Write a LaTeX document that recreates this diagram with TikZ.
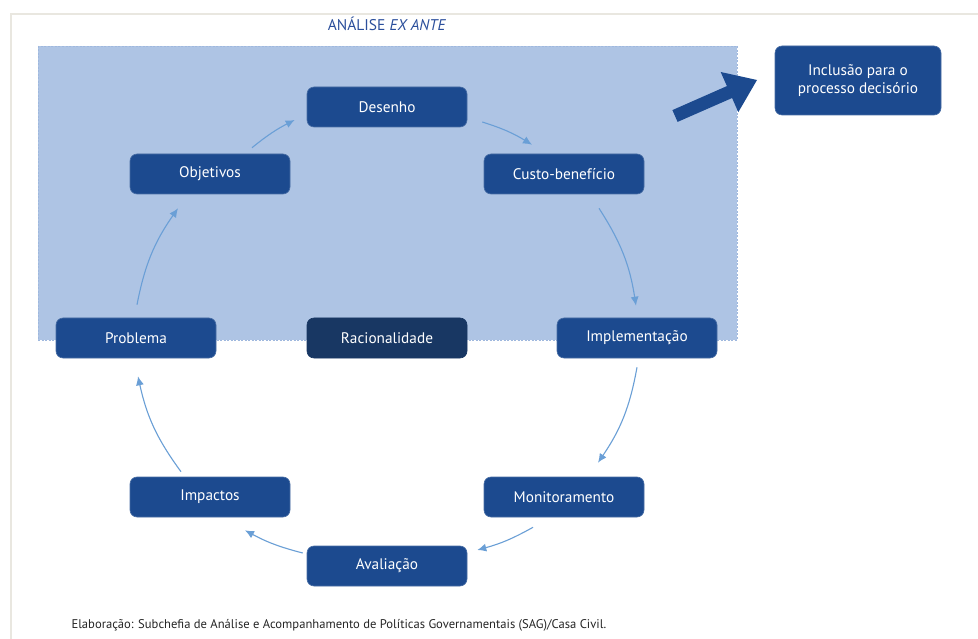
\documentclass[tikz,border=0pt]{standalone}
\usepackage{fontspec}
\setmainfont{PT Sans}
\usetikzlibrary{calc,arrows.meta}
\definecolor{boxblue}{HTML}{1C4A8F}
\definecolor{darkbox}{HTML}{183763}
\definecolor{areablue}{HTML}{AEC4E4}
\definecolor{areaedge}{HTML}{9FB8DE}
\definecolor{arrblue}{HTML}{6A9FD6}
\definecolor{titleblue}{HTML}{2B4F9C}
\definecolor{framecol}{HTML}{E9E7E0}
\tikzset{
  stepbox/.style={draw=boxblue!80!white, line width=0.6pt, fill=boxblue, rounded corners=7pt,
    minimum width=160pt, minimum height=40pt, inner sep=0pt, text=white, font=\fontsize{15.3}{18}\selectfont},
  cyc/.style={draw=arrblue, line width=1.1pt, -{Latex[length=9pt,width=8pt]}},
}
\begin{document}
\begin{tikzpicture}[x=1pt,y=-1pt]
\useasboundingbox (0,0) rectangle (978,639);
\fill[white] (0,0) rectangle (978,639);
% frame
\draw[framecol, line width=1.5pt] (978,14) -- (11,14) -- (11,639);
% analysis area
\fill[areablue] (38,46) rectangle (737,340);
\draw[areaedge, line width=0.8pt, dash pattern=on 2pt off 1.5pt] (38,46) rectangle (737,340);
\node[text=titleblue, font=\fontsize{15.5}{18}\selectfont] (title) at (387,24) {ANÁLISE \textit{EX ANTE}};
% nodes
\node[stepbox] (des) at (387,107) {Desenho};
\node[stepbox] (obj) at (210,174) {Objetivos};
\node[stepbox] (cb) at (564,174) {Custo-benefício};
\node[stepbox] (prob) at (136,338) {Problema};
\node[stepbox, fill=darkbox, draw=darkbox] (rac) at (387,338) {Racionalidade};
\node[stepbox] (impl) at (637,338) {Implementação};
\node[stepbox] (imp) at (210,497) {Impactos};
\node[stepbox] (mon) at (564,497) {Monitoramento};
\node[stepbox] (aval) at (387,566) {Avaliação};
\node[stepbox, minimum width=166pt, minimum height=69pt, align=center] (inc) at (858,80.5) {Inclusão para o\\processo decisório};
% big arrow
\fill[boxblue] (677.6,121.9) -- (732.1,98.0) -- (738.3,112.2) -- (757,80) -- (720.7,72.0) -- (726.9,86.1) -- (672.4,110.1) -- cycle;
% cycle arrows
\draw[cyc] ($(obj.north)+(42,-6)$) to[bend left=6] ($(des.west)+(-12,13)$);
\draw[cyc] ($(des.east)+(15,15)$) to[bend left=7] ($(cb.north)+(-32,-9)$);
\draw[cyc] ($(cb.south)+(35,14)$) to[bend left=12] ($(impl.north)+(-1,-12)$);
\draw[cyc] ($(impl.south)+(0,9)$) to[bend left=12] ($(mon.north)+(34,-14)$);
\draw[cyc] ($(mon.south)+(-31,10)$) to[bend left=7] ($(aval.east)+(10,-16)$);
\draw[cyc] ($(aval.west)+(-4,-13)$) to[bend left=7] ($(imp.south)+(35,13)$);
\draw[cyc] ($(imp.north)+(-29,-5)$) to[bend left=12] ($(prob.south)+(2,18)$);
\draw[cyc] ($(prob.north)+(1,-13)$) to[bend left=12] ($(obj.south)+(-32,14)$);
% caption
\node[anchor=west, text=black!85, font=\fontsize{12.6}{15}\selectfont] (cap) at (68,625) {Elaboração: Subchefia de Análise e Acompanhamento de Políticas Governamentais (SAG)/Casa Civil.};
\end{tikzpicture}
\end{document}
